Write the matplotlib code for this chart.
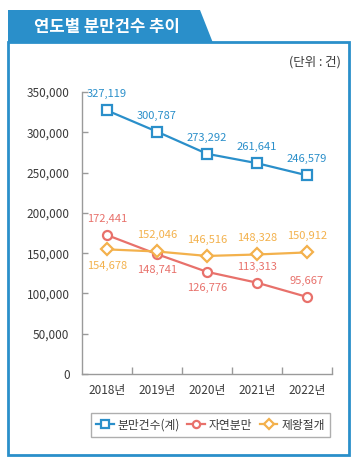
import matplotlib
matplotlib.use('Agg')
import matplotlib.pyplot as plt
from matplotlib.patches import Polygon, Rectangle
from matplotlib.ticker import FixedLocator, FuncFormatter

plt.rcParams['font.family'] = ['Noto Sans CJK KR', 'DejaVu Sans']

years = ['2018년', '2019년', '2020년', '2021년', '2022년']
total = [327119, 300787, 273292, 261641, 246579]
natural = [172441, 148741, 126776, 113313, 95667]
cesarean = [154678, 152046, 146516, 148328, 150912]
series_names = ['분만건수(계)', '자연분만', '제왕절개']
yticks = [0, 50000, 100000, 150000, 200000, 250000, 300000, 350000]

# label placement: +1 above the point, -1 below
total_pos = [1, 1, 1, 1, 1]
natural_pos = [1, -1, -1, 1, 1]
cesarean_pos = [-1, 1, 1, 1, 1]

BLUE = '#2a8fca'
RED = '#e8716b'
ORANGE = '#f3b14c'
GRAY = '#9a9a9a'
TXT = '#3a3a3a'

W, H = 356, 466
fig = plt.figure(figsize=(W / 100, H / 100), dpi=100)

# frame and title tab (pixel coords -> figure fraction)
def px(x, y):
  return (x / W, 1 - y / H)

fig.patches.append(Rectangle(px(8, 455), (349 - 8) / W, (455 - 42) / H, transform=fig.transFigure,
                             fill=False, edgecolor=BLUE, linewidth=2))
fig.patches.append(Polygon([px(8, 10), px(200, 10), px(213, 43), px(8, 43)], closed=True,
                           transform=fig.transFigure, facecolor=BLUE, edgecolor='none'))
fig.text(*px(34, 27), '연도별 분만건수 추이', color='white', fontsize=12, fontweight='bold',
         ha='left', va='center')
fig.text(*px(341, 62), '(단위 : 건)', color=TXT, fontsize=9, ha='right', va='center')

x0, x1, y0, y1 = 82, 332, 374, 92
ax = fig.add_axes([x0 / W, 1 - y0 / H, (x1 - x0) / W, (y0 - y1) / H])
ax.set_facecolor('none')
xs = list(range(len(years)))

def draw(vals, pos, color, marker, ms, name):
  ax.plot(xs, vals, color=color, lw=1.6, marker=marker, ms=ms, mfc='white', mec=color, mew=1.6,
          label=name, clip_on=False, zorder=3)
  for x, v, p in zip(xs, vals, pos):
    ax.annotate(f'{v:,}', (x, v), xytext=(0, 8 * p), textcoords='offset points',
                ha='center', va='bottom' if p > 0 else 'top', color=color, fontsize=8)

draw(total, total_pos, BLUE, 's', 6.5, series_names[0])
draw(natural, natural_pos, RED, 'o', 6.5, series_names[1])
draw(cesarean, cesarean_pos, ORANGE, 'D', 6.5, series_names[2])

ax.set_xlim(-0.5, len(years) - 0.5)
ax.set_ylim(0, 350000)
ax.set_xticks(xs)
ax.set_xticklabels(years)
ax.xaxis.set_minor_locator(FixedLocator([i + 0.5 for i in xs]))
ax.tick_params(axis='x', which='major', length=0, pad=7, labelsize=8.5, labelcolor=TXT)
ax.tick_params(axis='x', which='minor', direction='in', length=5, color=GRAY, width=1)
ax.set_yticks(yticks)
ax.yaxis.set_major_formatter(FuncFormatter(lambda v, p: f'{int(v):,}'))
ax.tick_params(axis='y', direction='in', length=4, color=GRAY, width=1, pad=9,
               labelsize=8.5, labelcolor=TXT)
for s in ['top', 'right']:
  ax.spines[s].set_visible(False)
for s in ['left', 'bottom']:
  ax.spines[s].set_color(GRAY)
  ax.spines[s].set_linewidth(1)

leg = fig.legend(loc='center', bbox_to_anchor=px(210.5, 425), ncol=3, frameon=True, fontsize=8.5,
                 handlelength=1.5, handletextpad=0.35, columnspacing=0.6, borderpad=0.45,
                 markerscale=0.8, fancybox=False, labelcolor=TXT)
leg.get_frame().set_edgecolor(GRAY)
leg.get_frame().set_linewidth(1)

fig.savefig('out.png', dpi=100)
